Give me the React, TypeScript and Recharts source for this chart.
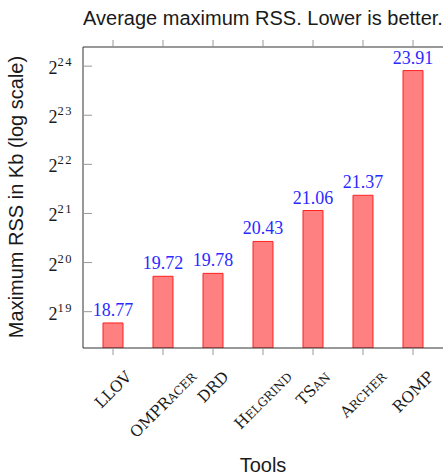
import React from 'react';
import { BarChart, Bar, XAxis, YAxis, LabelList } from 'recharts';

// log2 of the average max RSS (Kb) per tool
const tools = ['LLOV', 'OMPRacer', 'DRD', 'Helgrind', 'TSan', 'Archer', 'ROMP'];
const log2Rss = [18.77, 19.72, 19.78, 20.43, 21.06, 21.37, 23.91];
const yTicks = [19, 20, 21, 22, 23, 24];

const data = tools.map((tool, i) => ({ tool, value: log2Rss[i] }));

const SERIF = '"Liberation Serif", "Times New Roman", serif';
const LABEL_SERIF = '"DejaVu Serif", serif';
const SANS = '"Liberation Sans", Arial, sans-serif';
const BIG = 15.5;
const SMALL = 12;
const BOX = '#333';
const TICK = '#999';

// lowercase runs are drawn as small caps
function splitCaps(name: string) {
  const parts = name.match(/[^a-z]+|[a-z]+/g) || [];
  return parts.map((p) => ({ text: p.toUpperCase(), small: /^[a-z]/.test(p) }));
}

let ctx: CanvasRenderingContext2D | null = null;
function textWidth(s: string, size: number) {
  if (!ctx) ctx = document.createElement('canvas').getContext('2d');
  if (!ctx) return s.length * size * 0.7;
  ctx.font = `${size}px "DejaVu Serif"`;
  return ctx.measureText(s).width;
}

function ToolTick(props: any) {
  const { x, y, payload } = props;
  const parts = splitCaps(payload.value);
  const w = parts.reduce((s, p) => s + textWidth(p.text, p.small ? SMALL : BIG), 0);
  const cy = y + 15 + ((w + 11) * 0.7071) / 2;
  return (
    <text
      x={x}
      y={cy + 5.5}
      textAnchor="middle"
      transform={`rotate(-45, ${x}, ${cy})`}
      fontFamily={LABEL_SERIF}
      fontSize={BIG}
      fill="#1a1a1a"
    >
      {parts.map((p, i) => (
        <tspan key={i} fontSize={p.small ? SMALL : BIG}>
          {p.text}
        </tspan>
      ))}
    </text>
  );
}

// top border only carries outward tick marks
function TopTick(props: any) {
  const { x, y } = props;
  return <line x1={x} x2={x} y1={y} y2={y - 7} stroke={TICK} />;
}

function ExpTick(props: any) {
  const { x, y, payload } = props;
  return (
    <g>
      <line x1={x + 10} x2={x + 19} y1={y} y2={y} stroke={TICK} />
      <text x={x} y={y + 8} textAnchor="end" fontFamily={SERIF} fontSize={18} fill="#1a1a1a">
        2
        <tspan fontSize={12.5} dy={-8} letterSpacing={1.5}>
          {payload.value}
        </tspan>
      </text>
    </g>
  );
}

function RightTick(props: any) {
  const { x, y } = props;
  return <line x1={x - 9} x2={x} y1={y} y2={y} stroke={TICK} />;
}

export default function App() {
  return (
    <div style={{ position: 'absolute', left: 0, top: 0, background: '#fff' }}>
      <BarChart width={448} height={476} data={data} margin={{ top: 46, right: 5, left: 0, bottom: 0 }}>
        <XAxis
          dataKey="tool"
          xAxisId="bottom"
          height={128}
          padding={{ left: 5, right: 5 }}
          interval={0}
          axisLine={{ stroke: BOX }}
          tickLine={{ stroke: TICK }}
          tickSize={7}
          tickMargin={0}
          tick={<ToolTick />}
        />
        <XAxis
          dataKey="tool"
          xAxisId="top"
          orientation="top"
          height={1}
          padding={{ left: 5, right: 5 }}
          interval={0}
          axisLine={{ stroke: BOX }}
          tickLine={false}
          tickSize={0}
          tickMargin={0}
          tick={<TopTick />}
        />
        <YAxis
          yAxisId="left"
          width={83}
          type="number"
          domain={[18.26, 24.39]}
          allowDataOverflow
          ticks={yTicks}
          axisLine={{ stroke: BOX }}
          tickLine={false}
          tickSize={0}
          tickMargin={10}
          tick={<ExpTick />}
        />
        <YAxis
          yAxisId="right"
          orientation="right"
          width={0}
          type="number"
          domain={[18.26, 24.39]}
          allowDataOverflow
          ticks={yTicks}
          axisLine={{ stroke: BOX }}
          tickLine={false}
          tickSize={0}
          tickMargin={0}
          tick={<RightTick />}
        />
        <Bar
          dataKey="value"
          xAxisId="bottom"
          yAxisId="left"
          barSize={20}
          fill="#ff8080"
          stroke="#ff2020"
          isAnimationActive={false}
        >
          <LabelList
            dataKey="value"
            position="top"
            offset={7}
            fill="#2a2aff"
            fontFamily={SERIF}
            fontSize={18}
            formatter={(v: any) => Number(v).toFixed(2)}
          />
        </Bar>
        <text x={263} y={25} textAnchor="middle" fontFamily={SANS} fontSize={20} fill="#1a1a1a">
          Average maximum RSS. Lower is better.
        </text>
        <text
          x={23}
          y={197}
          textAnchor="middle"
          transform="rotate(-90, 23, 197)"
          fontFamily={SANS}
          fontSize={20}
          fill="#1a1a1a"
        >
          Maximum RSS in Kb (log scale)
        </text>
        <text x={263} y={472} textAnchor="middle" fontFamily={SANS} fontSize={20} fill="#1a1a1a">
          Tools
        </text>
      </BarChart>
    </div>
  );
}
